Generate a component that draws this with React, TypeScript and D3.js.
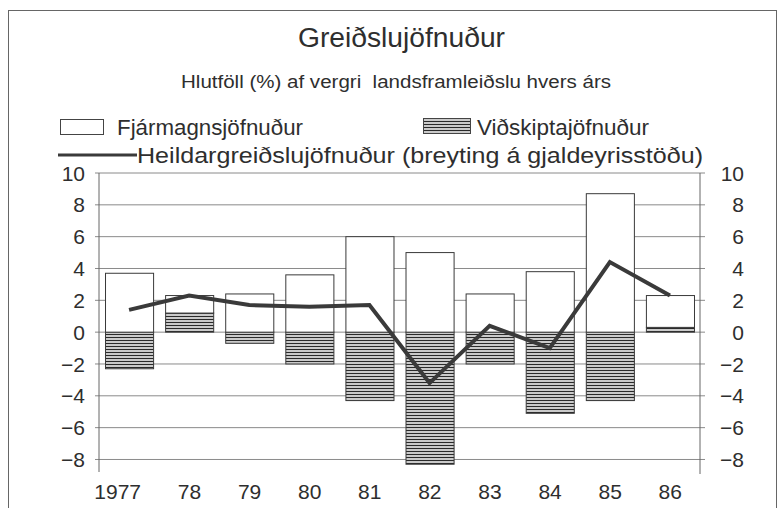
import React from "react";
import * as d3 from "d3";

const years = ["1977", "78", "79", "80", "81", "82", "83", "84", "85", "86"];
// Fjármagnsjöfnuður (capital account)
const capital = [3.7, 1.1, 2.4, 3.6, 6.0, 5.0, 2.4, 3.8, 8.7, 2.0];
// Viðskiptajöfnuður (current account)
const current = [-2.3, 1.2, -0.7, -2.0, -4.3, -8.3, -2.0, -5.1, -4.3, 0.3];
// Heildargreiðslujöfnuður (overall balance)
const total = [1.4, 2.3, 1.7, 1.6, 1.7, -3.2, 0.4, -1.0, 4.4, 2.3];
const yTicks = [-8, -6, -4, -2, 0, 2, 4, 6, 8, 10];

const FONT = "'Liberation Sans', Arial, Helvetica, sans-serif";
const INK = "#2e2e2e";

export default function App() {
  const y = d3.scaleLinear().domain([-8.85, 10]).range([473, 173]);
  const x = d3.scaleBand<string>().domain(years).range([99, 700]).paddingInner(0.2).paddingOuter(0.1);

  const rows = years.map((yr, i) => ({ year: yr, current: current[i], capital: capital[i] }));
  const series = d3
    .stack<any>()
    .keys(["current", "capital"])
    .offset(d3.stackOffsetDiverging)(rows);

  const line = d3
    .line<number>()
    .x((_, i) => (x(years[i]) as number) + x.bandwidth() / 2)
    .y((d) => y(d));

  const fmt = (v: number) => (v < 0 ? "\u2212" + Math.abs(v) : String(v));

  return (
    <svg
      width={780}
      height={508}
      style={{ position: "absolute", left: 0, top: 0, background: "#fff" }}
      fontFamily={FONT}
    >
      <defs>
        <pattern id="hatch" width={8} height={3} patternUnits="userSpaceOnUse">
          <rect width={8} height={3} fill="#fff" />
          <line x1={0} x2={8} y1={1.5} y2={1.5} stroke="#2a2a2a" strokeWidth={1.5} />
        </pattern>
      </defs>
      <rect x={0} y={0} width={780} height={508} fill="#fff" />
      <rect x={8.5} y={10.5} width={768} height={600} fill="none" stroke="#666" strokeWidth={1} />

      <text x={401.5} y={47} textAnchor="middle" fontSize={27} fill={INK} textLength={207} lengthAdjust="spacingAndGlyphs">
        Greiðslujöfnuður
      </text>
      <text x={181} y={88} fontSize={17.5} fill={INK} textLength={430} lengthAdjust="spacingAndGlyphs" style={{ whiteSpace: "pre" }}>
        {"Hlutföll (%) af vergri  landsframleiðslu hvers árs"}
      </text>

      {/* legend */}
      <rect x={60.5} y={119.5} width={43} height={15} fill="#fff" stroke="#444" strokeWidth={1} />
      <text x={117} y={135} fontSize={22} fill={INK} textLength={186} lengthAdjust="spacingAndGlyphs">
        Fjármagnsjöfnuður
      </text>
      <rect x={423.5} y={118.5} width={47} height={15} fill="url(#hatch)" stroke="#444" strokeWidth={1} />
      <text x={477} y={135} fontSize={22} fill={INK} textLength={172} lengthAdjust="spacingAndGlyphs">
        Viðskiptajöfnuður
      </text>
      <line x1={58} x2={137} y1={155} y2={155} stroke="#3a3a3a" strokeWidth={3} />
      <text x={137} y={163} fontSize={22.5} fill={INK} textLength={566} lengthAdjust="spacingAndGlyphs">
        Heildargreiðslujöfnuður (breyting á gjaldeyrisstöðu)
      </text>

      {/* gridlines */}
      {yTicks.map((t) => (
        <line key={"g" + t} x1={95} x2={705} y1={y(t)} y2={y(t)} stroke="#8a8a8a" strokeWidth={1} />
      ))}
      {/* axes */}
      <line x1={99} x2={99} y1={y(10)} y2={y(-8.85) - 1} stroke="#666" strokeWidth={1} />
      <line x1={700} x2={700} y1={y(10)} y2={y(-8.85) + 1} stroke="#666" strokeWidth={1} />
      {yTicks.map((t) => (
        <text key={"l" + t} x={85} y={y(t)} dy="0.36em" textAnchor="end" fontSize={21} fill={INK}>
          {fmt(t)}
        </text>
      ))}
      {yTicks.map((t) => (
        <text key={"r" + t} x={744} y={y(t)} dy="0.36em" textAnchor="end" fontSize={21} fill={INK}>
          {fmt(t)}
        </text>
      ))}

      {/* bars */}
      {series.map((s) =>
        s.map((d, i) => {
          const top = y(Math.max(d[0], d[1]));
          const bot = y(Math.min(d[0], d[1]));
          if (bot - top < 0.01) return null;
          return (
            <rect
              key={s.key + i}
              x={(x(years[i]) as number) + 0.5}
              y={top}
              width={x.bandwidth()}
              height={bot - top}
              fill={s.key === "current" ? "url(#hatch)" : "#fff"}
              stroke="#3a3a3a"
              strokeWidth={1}
            />
          );
        })
      )}

      {/* overall line */}
      <path d={line(total) as string} fill="none" stroke="#3a3a3a" strokeWidth={4} strokeLinejoin="miter" />

      {/* x labels */}
      {years.map((yr) => (
        <text
          key={"x" + yr}
          x={(x(yr) as number) + x.bandwidth() / 2 + 12}
          y={499}
          textAnchor="end"
          fontSize={21}
          fill={INK}
        >
          {yr}
        </text>
      ))}
    </svg>
  );
}
